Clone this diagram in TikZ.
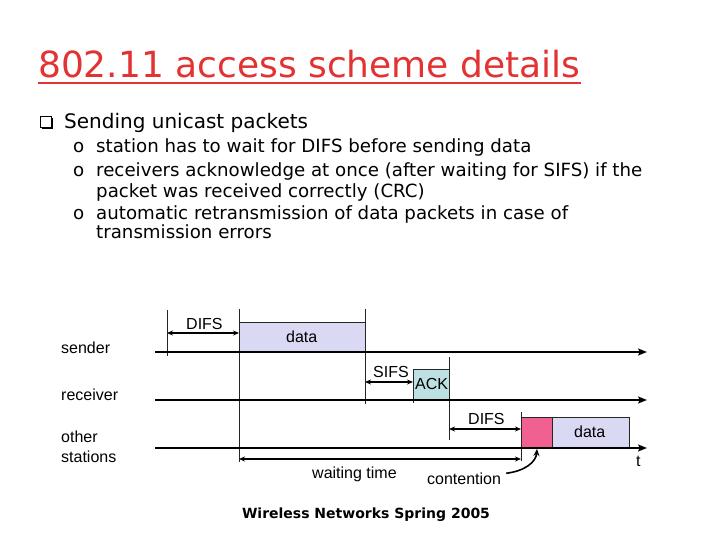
\documentclass[tikz,border=0pt]{standalone}
\usepackage{fontspec}
\setmainfont{DejaVu Sans}
\newfontfamily\arialfont{Liberation Sans}
\usetikzlibrary{arrows.meta}
\definecolor{titlered}{RGB}{226,50,50}
\definecolor{datafill}{RGB}{217,217,243}
\definecolor{ackfill}{RGB}{189,224,226}
\definecolor{pinkfill}{RGB}{240,96,144}
\begin{document}
\begin{tikzpicture}[x=1pt,y=-1pt,
  txt/.style={inner sep=0pt, anchor=base west},
  titletxt/.style={txt, text=titlered, font=\fontsize{36}{40}\selectfont},
  bullettxt/.style={txt, font=\fontsize{20}{24}\selectfont},
  subtxt/.style={txt, font=\fontsize{18.2}{22}\selectfont},
  lbl/.style={inner sep=0pt, anchor=base west, font=\arialfont\fontsize{16}{18}\selectfont},
  foot/.style={inner sep=0pt, anchor=base, font=\bfseries\fontsize{14}{16}\selectfont},
  timeline/.style={line width=2.4pt, -{Stealth[length=9pt,width=7pt,inset=2pt]}},
  tickline/.style={line width=0.7pt, black!85},
  dim/.style={line width=1.4pt, {Stealth[length=6pt,width=5pt]}-{Stealth[length=6pt,width=5pt]}},
  box/.style={draw=black!85, line width=0.7pt},
]
\useasboundingbox (0,0) rectangle (720,540);

% title
\node[titletxt] (title) at (38,78) {802.11 access scheme details};
\draw[titlered, line width=2.5pt] (title.south west |- 0,83) coordinate (ul1) -- (title.south east |- 0,83) coordinate (ul2);

% bullets
\draw[line width=1pt] (40.5,117) rectangle (51.5,127.5);
\draw[line width=1.2pt] (41.5,128.3) -- (52.3,128.3) -- (52.3,118);
\node[bullettxt] (b1) at (64,129) {Sending unicast packets};
\node[subtxt] (o1) at (73,153) {o};
\node[subtxt] (s1) at (96,153) {station has to wait for DIFS before sending data};
\node[subtxt] (o2) at (73,177) {o};
\node[subtxt] (s2) at (96,177) {receivers acknowledge at once (after waiting for SIFS) if the};
\node[subtxt] (s2b) at (96,197) {packet was received correctly (CRC)};
\node[subtxt] (o3) at (73,219) {o};
\node[subtxt] (s3) at (96,219) {automatic retransmission of data packets in case of};
\node[subtxt] (s3b) at (96,239) {transmission errors};

% boxes
\fill[datafill] (239,322) rectangle (365,352);
\draw[box] (239,322) -- (365,322);
\fill[ackfill] (413,369) rectangle (449,400);
\draw[box] (413,369) -- (449,369);
\fill[pinkfill] (521,417) rectangle (552,448);
\fill[datafill] (552,417) rectangle (629,448);
\draw[box] (521,417) -- (629,417) -- (629,448);
\draw[box] (552,417) -- (552,448);

% vertical ticks
\draw[tickline] (167,310) coordinate (v1t) -- (167,356) coordinate (v1b);
\draw[tickline] (239,309) coordinate (v2t) -- (239,462) coordinate (v2b);
\draw[tickline] (365,309) coordinate (v3t) -- (365,404) coordinate (v3b);
\draw[tickline] (413,369) coordinate (v4t) -- (413,403) coordinate (v4b);
\draw[tickline] (449,357) coordinate (v5t) -- (449,440) coordinate (v5b);
\draw[tickline] (521,412) coordinate (v6t) -- (521,461) coordinate (v6b);

% timelines
\coordinate (sL) at (155,352); \coordinate (sR) at (647,352);
\coordinate (rL) at (155,400); \coordinate (rR) at (647,400);
\coordinate (oL) at (155,448); \coordinate (oR) at (647,448);
\draw[timeline] (sL) -- (sR);
\draw[timeline] (rL) -- (rR);
\draw[timeline] (oL) -- (oR);

% dimension arrows
\draw[dim] (167,333) coordinate (d1a) -- (239,333) coordinate (d1b);
\draw[dim] (365,382) coordinate (d2a) -- (413,382) coordinate (d2b);
\draw[dim] (449,429) coordinate (d3a) -- (521,429) coordinate (d3b);
\draw[dim] (239,459) coordinate (d4a) -- (521,459) coordinate (d4b);

% labels
\node[lbl] (sender) at (61,353) {sender};
\node[lbl] (receiver) at (61,400) {receiver};
\node[lbl] (other) at (61,442) {other};
\node[lbl] (stations) at (61,462) {stations};
\node[lbl] (difs1) at (186,329) {DIFS};
\node[lbl] (data1) at (286,342) {data};
\node[lbl] (sifs) at (373,377) {SIFS};
\node[lbl] (ack) at (415,389) {ACK};
\node[lbl] (difs2) at (468,424) {DIFS};
\node[lbl] (data2) at (574,437) {data};
\node[lbl] (t) at (636,466) {t};
\node[lbl] (wait) at (312,478) {waiting time};
\node[lbl] (cont) at (427,484) {contention};

% contention arrow
\coordinate (cb) at (537,449);
\draw[line width=1.6pt, -{Stealth[length=7pt,width=6pt]}] (cont.east) ++(5,-5) coordinate (cs) .. controls (525,471) and (536,462) .. (cb);

% footer
\node[foot] (footer) at (366,518) {Wireless Networks Spring 2005};
\end{tikzpicture}
\end{document}
